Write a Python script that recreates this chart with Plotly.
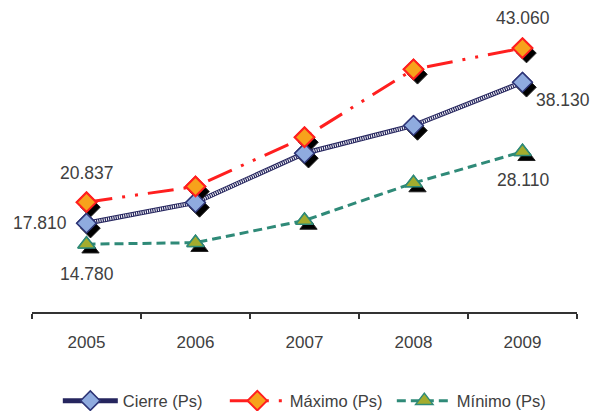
import plotly.graph_objects as go

# Annual share price (Ps): close, high and low
years = ["2005", "2006", "2007", "2008", "2009"]
cierre = [17.810, 20.8, 27.9, 31.9, 38.130]
maximo = [20.837, 23.1, 30.2, 40.0, 43.060]
minimo = [14.780, 15.0, 18.2, 23.6, 28.110]

Y_MIN, Y_MAX = 5, 50
PLOT_W, PLOT_H = 545, 312
SH_DX, SH_DY = 4, 5  # shadow offset in px
dx_units = SH_DX * 5 / PLOT_W
dy_units = SH_DY * (Y_MAX - Y_MIN) / PLOT_H

NAVY = "#25255e"
RED = "#ff1f1f"
TEAL = "#2f8a78"
TXT = "#404040"
FONT = "Liberation Sans, Arial, sans-serif"

fig = go.Figure()

# --- lines (bottom layer, carries the legend) ---
fig.add_trace(go.Scatter(
    x=years, y=cierre, name="Cierre (Ps)", mode="lines+markers",
    line=dict(color=NAVY, width=5),
    marker=dict(symbol="diamond", size=15, color="#8fabdf",
                line=dict(color="#2e3577", width=1.5)),
))
fig.add_trace(go.Scatter(
    x=years, y=cierre, mode="lines", showlegend=False, hoverinfo="skip",
    line=dict(color="white", width=3, dash="1px,1.2px"),
))
fig.add_trace(go.Scatter(
    x=years, y=maximo, name="Máximo (Ps)", mode="lines+markers",
    line=dict(color=RED, width=3, dash="26px,10px,3px,10px,3px,10px"),
    marker=dict(symbol="diamond", size=15, color="#f7a21b",
                line=dict(color=RED, width=2)),
))
fig.add_trace(go.Scatter(
    x=years, y=minimo, name="Mínimo (Ps)", mode="lines+markers",
    line=dict(color=TEAL, width=3, dash="9px,5px"),
    marker=dict(symbol="triangle-up", size=15, color="#a3ac2e",
                line=dict(color=TEAL, width=1.5)),
))

# --- drop shadows (middle layer, shifted axes) ---
for vals, sym in [(cierre, "diamond"), (maximo, "diamond"), (minimo, "triangle-up")]:
    fig.add_trace(go.Scatter(
        x=years, y=vals, mode="markers", showlegend=False, hoverinfo="skip",
        xaxis="x2", yaxis="y2",
        marker=dict(symbol=sym, size=15, color="black",
                    line=dict(color="#222", width=1)),
    ))

# --- markers on top ---
fig.add_trace(go.Scatter(
    x=years, y=cierre, mode="markers", showlegend=False, xaxis="x3", yaxis="y3",
    marker=dict(symbol="diamond", size=15, color="#8fabdf",
                line=dict(color="#2e3577", width=1.5)),
))
fig.add_trace(go.Scatter(
    x=years, y=maximo, mode="markers", showlegend=False, xaxis="x3", yaxis="y3",
    marker=dict(symbol="diamond", size=15, color="#f7a21b",
                line=dict(color=RED, width=2)),
))
fig.add_trace(go.Scatter(
    x=years, y=minimo, mode="markers", showlegend=False, xaxis="x3", yaxis="y3",
    marker=dict(symbol="triangle-up", size=15, color="#a3ac2e",
                line=dict(color=TEAL, width=1.5)),
))

# --- value labels for first and last year ---
def fmt(v):
    return f"{v:.3f}"

labels = [
    (0, maximo[0], 0, 29),
    (0, cierre[0], -47, 0),
    (0, minimo[0], 0, -30),
    (4, maximo[4], 0, 30),
    (4, cierre[4], 40, -18),
    (4, minimo[4], 0, -28),
]
for i, v, xs, ys in labels:
    fig.add_annotation(
        x=i, y=v, xref="x", yref="y", text=fmt(v), showarrow=False,
        xshift=xs, yshift=ys,
        font=dict(family=FONT, size=17.5, color=TXT),
    )

hidden = dict(visible=False, fixedrange=True)
fig.update_layout(
    width=602, height=411,
    margin=dict(l=32, r=25, t=0, b=99, autoexpand=False),
    paper_bgcolor="white", plot_bgcolor="white",
    font=dict(family=FONT, size=17, color=TXT),
    xaxis=dict(type="category", range=[-0.5, 4.5], tickson="boundaries",
               ticks="outside", ticklen=5, tickwidth=2, tickcolor="#333",
               showline=True, linecolor="#333", linewidth=2,
               showgrid=False, zeroline=False, fixedrange=True,
               tickfont=dict(family=FONT, size=17, color=TXT), ticklabelstandoff=14),
    yaxis=dict(range=[Y_MIN, Y_MAX], **hidden),
    xaxis2=dict(type="category", overlaying="x",
                range=[-0.5 - dx_units, 4.5 - dx_units], **hidden),
    yaxis2=dict(overlaying="y", range=[Y_MIN + dy_units, Y_MAX + dy_units], **hidden),
    xaxis3=dict(type="category", overlaying="x", range=[-0.5, 4.5], **hidden),
    yaxis3=dict(overlaying="y", range=[Y_MIN, Y_MAX], **hidden),
    legend=dict(orientation="h", x=0.507, xanchor="center", y=-0.285, yanchor="middle",
                itemwidth=55, entrywidth=97, entrywidthmode="pixels",
                font=dict(family=FONT, size=16.5, color=TXT),
                bgcolor="rgba(0,0,0,0)"),
    showlegend=True,
)

fig.write_html("out.html")
